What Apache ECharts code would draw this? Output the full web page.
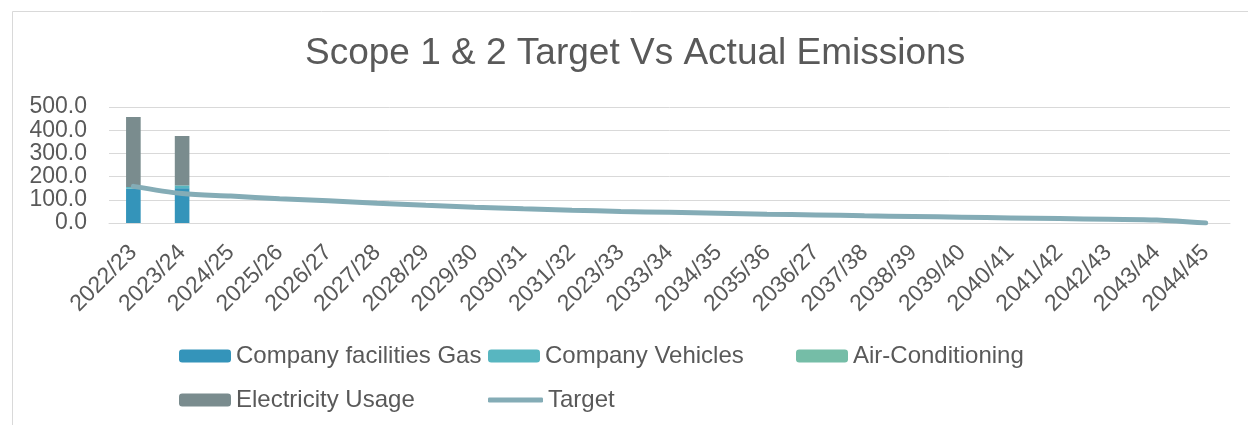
<!DOCTYPE html>
<html>
<head>
<meta charset="utf-8">
<script src="https://cdn.jsdelivr.net/npm/echarts@6/dist/echarts.min.js"></script>
<style>
html,body{margin:0;padding:0;background:#fff;}
#c{width:1248px;height:425px;}
</style>
</head>
<body>
<div id="c"></div>
<script>
var categories = ['2022/23','2023/24','2024/25','2025/26','2026/27','2027/28','2028/29','2029/30','2030/31','2031/32','2023/33','2033/34','2034/35','2035/36','2036/27','2037/38','2038/39','2039/40','2040/41','2041/42','2042/43','2043/44','2044/45'];
var gas = [148, 150];
var vehicles = [7, 12];
var airCon = [0, 0];
var electricity = [302, 213];
var target = [158, 127, 116, 105, 96, 85, 76, 68, 61, 55, 50, 46, 42, 38, 35, 31, 28, 25, 22, 19, 16, 13, 0];
var yTicks = [0, 100, 200, 300, 400, 500];

var txt = '#595959';
var font = 'Liberation Sans';
var chart = echarts.init(document.getElementById('c'));

function leg(name, left, top, extra) {
  var o = {
    data: [name], left: left, top: top, padding: 0, orient: 'horizontal',
    itemWidth: 52, itemHeight: 13, itemGap: 0,
    textStyle: {color: txt, fontSize: 24, fontFamily: font},
    selectedMode: false
  };
  if (extra) { for (var k in extra) o[k] = extra[k]; }
  return o;
}

chart.setOption({
  animation: false,
  backgroundColor: '#fff',
  title: {
    text: 'Scope 1 & 2 Target Vs Actual Emissions',
    left: 305, top: 35, padding: 0,
    textStyle: {color: txt, fontSize: 37, fontWeight: 'normal', fontFamily: font}
  },
  graphic: [{
    type: 'rect', silent: true,
    shape: {x: 12.5, y: 11.5, width: 1260, height: 440},
    style: {fill: 'none', stroke: '#D9D9D9', lineWidth: 1}
  }],
  legend: [
    leg('Company facilities Gas', 179, 344),
    leg('Company Vehicles', 488, 344),
    leg('Air-Conditioning', 796, 344),
    leg('Electricity Usage', 179, 388),
    leg('Target', 488, 388, {icon: 'roundRect', itemHeight: 5, itemWidth: 55})
  ],
  grid: {left: 109, right: 18, top: 107, bottom: 202},
  xAxis: {
    type: 'category', data: categories,
    axisLine: {show: true, lineStyle: {color: '#D9D9D9', width: 1}},
    axisTick: {show: false},
    axisLabel: {rotate: 45, color: txt, fontSize: 23, fontFamily: font, margin: 26, interval: 0}
  },
  yAxis: {
    type: 'value', min: yTicks[0], max: yTicks[yTicks.length - 1], interval: 100,
    axisLine: {show: false}, axisTick: {show: false},
    splitLine: {lineStyle: {color: '#D9D9D9', width: 1}},
    axisLabel: {color: txt, fontSize: 23, fontFamily: font, margin: 22,
      showMinLabel: true, showMaxLabel: true,
      formatter: function (v) { return v.toFixed(1); }}
  },
  series: [
    {name: 'Company facilities Gas', type: 'bar', stack: 's', data: gas, barWidth: '30%', itemStyle: {color: '#3494BA'}},
    {name: 'Company Vehicles', type: 'bar', stack: 's', data: vehicles, itemStyle: {color: '#58B6C0'}},
    {name: 'Air-Conditioning', type: 'bar', stack: 's', data: airCon, itemStyle: {color: '#75BDA7'}},
    {name: 'Electricity Usage', type: 'bar', stack: 's', data: electricity, itemStyle: {color: '#7A8C8E'}},
    {name: 'Target', type: 'line', data: target, smooth: 0.3, symbol: 'none', z: 5,
      lineStyle: {color: '#84ACB6', width: 5, cap: 'round'}, itemStyle: {color: '#84ACB6'}}
  ]
});
</script>
</body>
</html>
